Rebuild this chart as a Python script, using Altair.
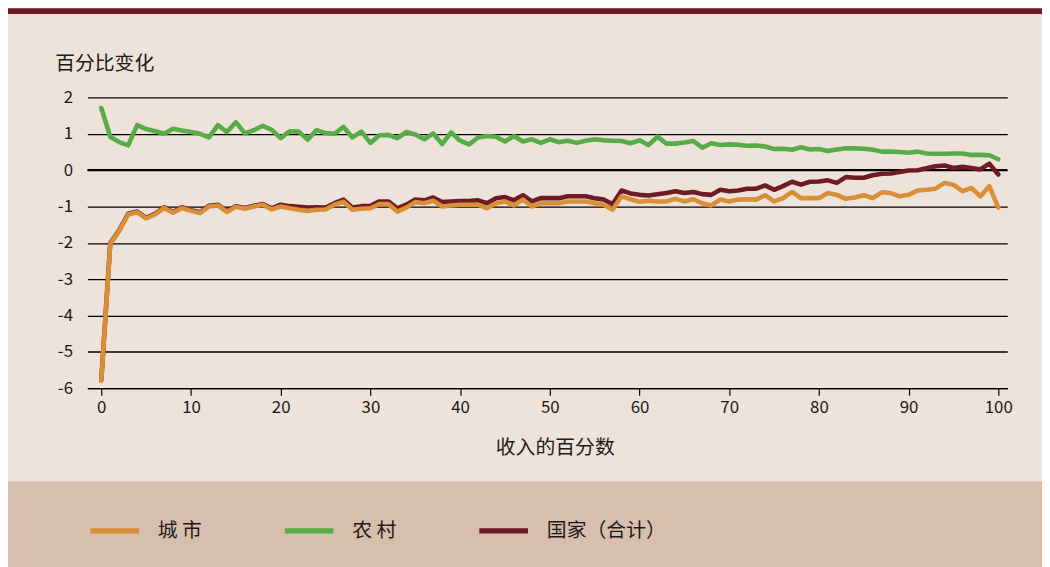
import altair as alt
import pandas as pd

FONT = "Noto Sans CJK SC"
TEXT = "#1d1a1a"

# ---------------- data ----------------
pct = list(range(101))

rural = [1.71, 0.92, 0.77, 0.68, 1.24, 1.13, 1.07, 1.00, 1.14, 1.09,
         1.05, 1.00, 0.90, 1.24, 1.05, 1.32, 1.01, 1.10, 1.22, 1.11,
         0.88, 1.07, 1.06, 0.84, 1.10, 1.02, 1.00, 1.19, 0.90, 1.06,
         0.75, 0.96, 0.97, 0.88, 1.05, 0.98, 0.85, 1.01, 0.72, 1.04,
         0.81, 0.71, 0.90, 0.94, 0.92, 0.79, 0.94, 0.79, 0.85, 0.75,
         0.85, 0.77, 0.81, 0.75, 0.81, 0.85, 0.82, 0.81, 0.80, 0.74,
         0.82, 0.69, 0.92, 0.73, 0.73, 0.76, 0.80, 0.62, 0.74, 0.69,
         0.71, 0.70, 0.67, 0.68, 0.65, 0.58, 0.59, 0.56, 0.63, 0.57,
         0.58, 0.53, 0.57, 0.60, 0.60, 0.59, 0.56, 0.51, 0.51, 0.50,
         0.48, 0.51, 0.46, 0.45, 0.45, 0.46, 0.46, 0.42, 0.42, 0.41,
         0.30]

urban = [-5.80, -2.03, -1.67, -1.22, -1.16, -1.33, -1.22, -1.04, -1.17, -1.04,
         -1.12, -1.18, -1.00, -0.97, -1.15, -1.01, -1.06, -1.00, -0.95, -1.08,
         -1.00, -1.05, -1.09, -1.12, -1.09, -1.08, -0.95, -0.87, -1.09, -1.06,
         -1.05, -0.93, -0.93, -1.14, -1.03, -0.88, -0.91, -0.84, -1.00, -0.97,
         -0.95, -0.95, -0.95, -1.05, -0.91, -0.86, -0.97, -0.81, -1.00, -0.91,
         -0.91, -0.91, -0.86, -0.86, -0.86, -0.91, -0.95, -1.09, -0.72, -0.80,
         -0.87, -0.84, -0.86, -0.86, -0.79, -0.86, -0.80, -0.91, -0.97, -0.81,
         -0.86, -0.81, -0.80, -0.81, -0.69, -0.86, -0.77, -0.60, -0.77, -0.77,
         -0.77, -0.63, -0.68, -0.79, -0.75, -0.69, -0.77, -0.61, -0.63, -0.72,
         -0.68, -0.56, -0.54, -0.51, -0.35, -0.40, -0.58, -0.49, -0.72, -0.44,
         -1.03]

national = [-5.78, -2.01, -1.65, -1.20, -1.14, -1.31, -1.20, -1.02, -1.15, -1.02,
            -1.10, -1.16, -0.98, -0.95, -1.13, -0.99, -1.04, -0.98, -0.93, -1.05,
            -0.95, -0.99, -1.01, -1.03, -1.02, -1.03, -0.91, -0.81, -1.03, -0.99,
            -0.98, -0.86, -0.86, -1.05, -0.95, -0.81, -0.83, -0.75, -0.88, -0.86,
            -0.85, -0.85, -0.83, -0.91, -0.77, -0.74, -0.83, -0.69, -0.86, -0.77,
            -0.77, -0.77, -0.72, -0.72, -0.72, -0.77, -0.81, -0.94, -0.56, -0.64,
            -0.68, -0.70, -0.66, -0.63, -0.58, -0.63, -0.60, -0.66, -0.68, -0.54,
            -0.58, -0.56, -0.51, -0.51, -0.42, -0.54, -0.44, -0.32, -0.40, -0.32,
            -0.31, -0.28, -0.35, -0.19, -0.21, -0.21, -0.14, -0.10, -0.09, -0.05,
            -0.01, 0.00, 0.05, 0.11, 0.13, 0.06, 0.09, 0.06, 0.02, 0.18,
            -0.12]

series_names = ["城 市", "农 村", "国家（合计）"]
series_colors = ["#D98E38", "#58AC46", "#6E1B24"]
x_ticks = [0, 10, 20, 30, 40, 50, 60, 70, 80, 90, 100]
y_ticks = [-6, -5, -4, -3, -2, -1, 0, 1, 2]
zero_line = [0]

rows = []
for name, vals in zip(series_names, [urban, rural, national]):
    for p, v in zip(pct, vals):
        rows.append({"pct": p, "value": v, "series": name})
df = pd.DataFrame(rows)

W, H = 927, 293

x_axis = alt.Axis(
    values=x_ticks, grid=False, domain=True, domainColor="black", domainWidth=1.2,
    ticks=True, tickColor="black", tickSize=7, tickWidth=1.2,
    labelFont=FONT, labelFontSize=17, labelColor=TEXT, labelPadding=4,
    title="收入的百分数", titleFont=FONT, titleFontSize=20, titleFontWeight="normal",
    titleColor=TEXT, titleX=471, titleY=60, titleAlign="center", titleBaseline="middle",
)
y_axis = alt.Axis(
    values=y_ticks, grid=True, gridColor="black", gridWidth=1.3, gridOpacity=1,
    domain=False, ticks=False, labelOverlap=False,
    labelFont=FONT, labelFontSize=17, labelColor=TEXT, labelPadding=15,
    labelExpr="'' + datum.value",
    title="百分比变化", titleFont=FONT, titleFontSize=20, titleFontWeight="normal",
    titleColor=TEXT, titleAngle=0, titleX=-33, titleY=-34, titleAlign="left",
    titleBaseline="middle",
)
x_scale = alt.Scale(domain=[-1.55, 101], nice=False, zero=False)
y_scale = alt.Scale(domain=[-6, 2], nice=False, zero=False)

color_enc = alt.Color(
    "series:N",
    scale=alt.Scale(domain=series_names, range=series_colors),
    legend=alt.Legend(
        title=None, orient="none", legendX=0, legendY=409, direction="horizontal",
        symbolType="stroke", symbolSize=2401, symbolStrokeWidth=5.5,
        labelFont=FONT, labelFontSize=20, labelColor=TEXT, labelOffset=16,
        columnPadding=72,
    ),
)

dummy = pd.DataFrame({"a": [0]})
top_band = alt.Chart(dummy).mark_rect(color="#6E1C24").encode(
    x=alt.value(-81), x2=alt.value(W + 40), y=alt.value(-90), y2=alt.value(-84)
)
legend_band = alt.Chart(dummy).mark_rect(color="#D8BEAC").encode(
    x=alt.value(-81), x2=alt.value(W + 40), y=alt.value(387), y2=alt.value(480)
)

def series_layer(name):
    return alt.Chart(df).transform_filter(alt.datum.series == name).mark_line(
        strokeWidth=4.6, strokeJoin="round", strokeCap="round"
    ).encode(
        x=alt.X("pct:Q", scale=x_scale, axis=x_axis),
        y=alt.Y("value:Q", scale=y_scale, axis=y_axis),
        color=color_enc,
    )

zero = alt.Chart(pd.DataFrame({"value": zero_line})).mark_rule(
    color="black", strokeWidth=2.2
).encode(y=alt.Y("value:Q", scale=y_scale, axis=y_axis))

chart = alt.layer(
    legend_band,
    top_band,
    series_layer(series_names[1]),
    zero,
    series_layer(series_names[2]),
    series_layer(series_names[0]),
).properties(
    width=W, height=H,
    padding={"left": 80, "top": 88, "right": 35, "bottom": 178},
    autosize=alt.AutoSizeParams(type="none"),
    background="#EDE3DB",
).configure_view(stroke=None)

chart.save("out.html", embed_options={"renderer": "svg", "actions": False})
